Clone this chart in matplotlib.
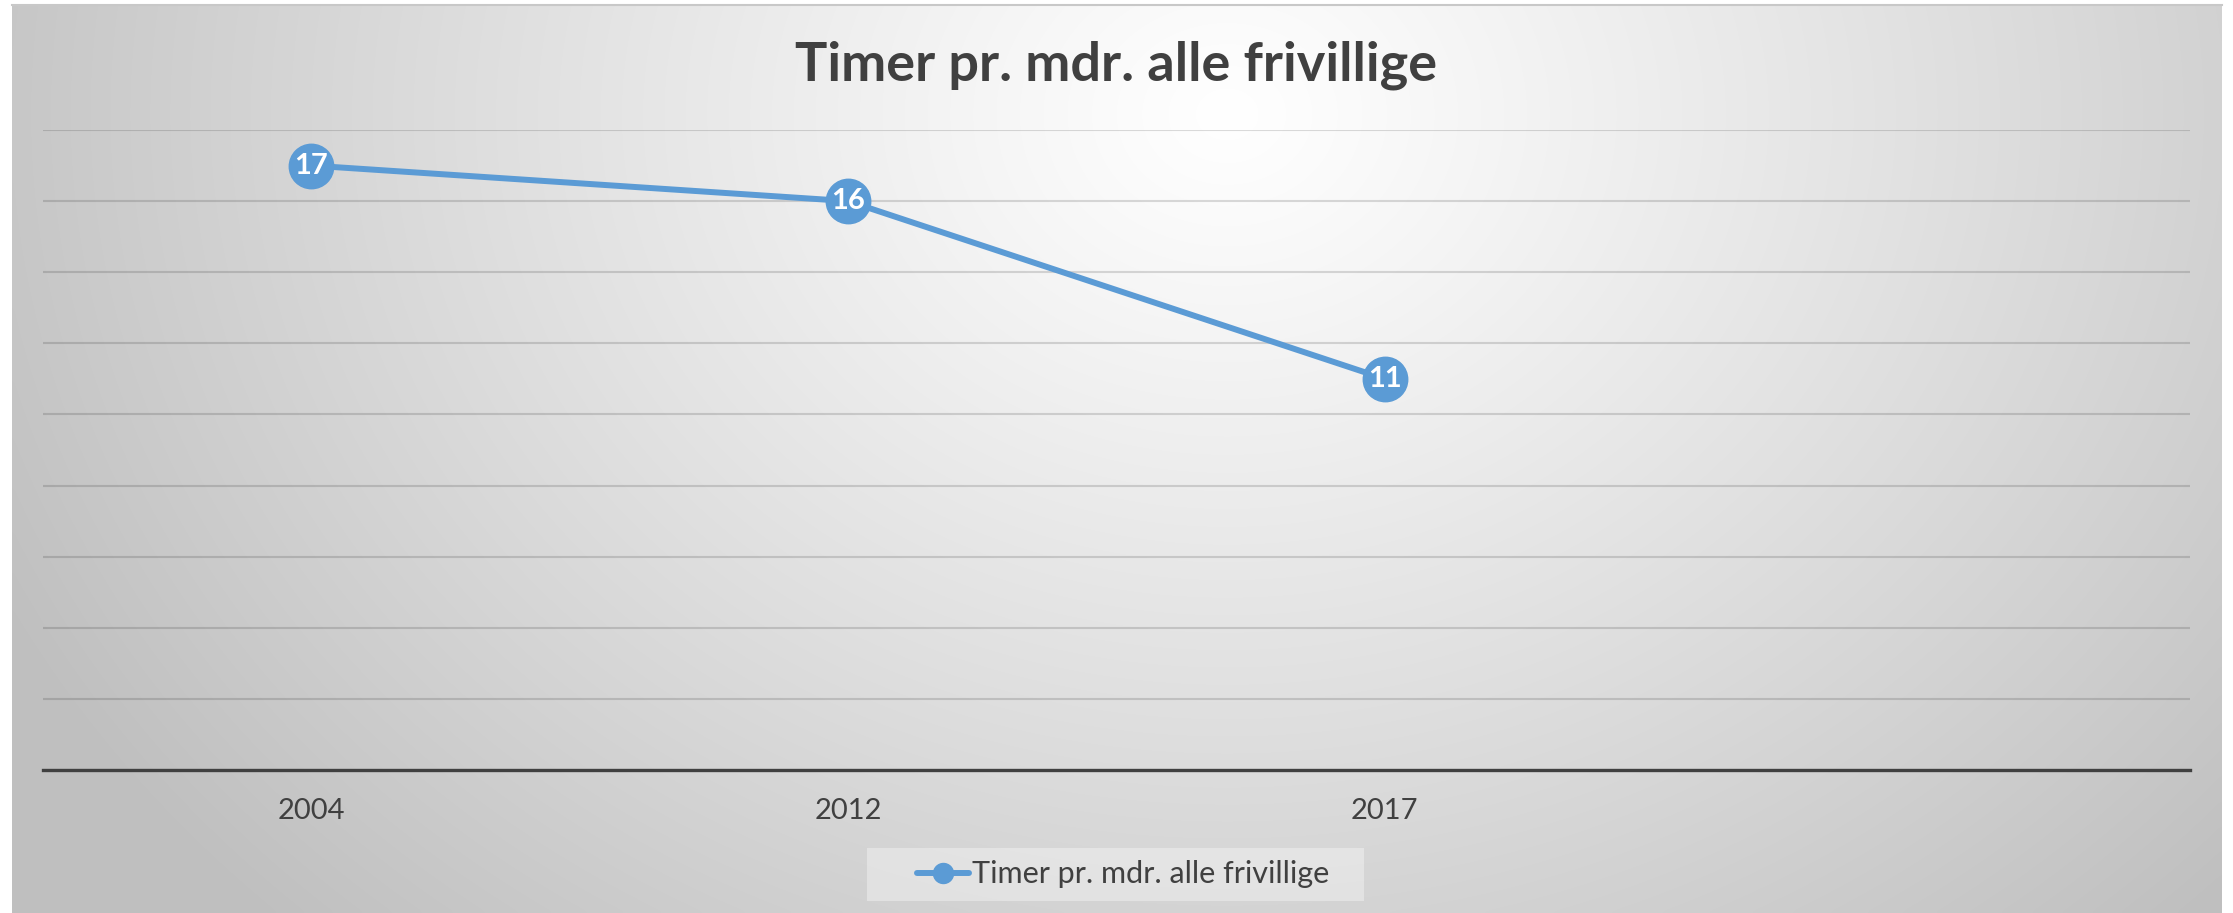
import numpy as np
import matplotlib.pyplot as plt
from matplotlib.patches import Rectangle

plt.rcParams['font.family'] = ['Lato', 'DejaVu Sans']

# Data
categories = ['2004', '2012', '2017', '']
values = [17, 16, 11]
series_name = 'Timer pr. mdr. alle frivillige'
title = 'Timer pr. mdr. alle frivillige'

W, H = 2233, 913
fig = plt.figure(figsize=(W / 100, H / 100), dpi=100)
fig.patch.set_facecolor('white')

# Radial gradient background of the chart area
bg = fig.add_axes([12 / W, 0, 2210 / W, 908 / H], zorder=0)
nx, ny = 600, 250
u, v = np.meshgrid(np.linspace(0, 1, nx), np.linspace(1, 0, ny))
d = np.sqrt(((u - 0.55) / 0.62) ** 2 + ((v - 0.88) / 1.25) ** 2)
d = np.clip(d, 0, 1)
shade = 1.0 - 0.25 * d ** 1.1
img = np.dstack([shade, shade, shade])
bg.imshow(img, aspect='auto', extent=[0, 1, 0, 1], interpolation='bicubic')
bg.set_axis_off()
fig.add_artist(plt.Line2D([12 / W, 2222 / W], [1 - 5 / H, 1 - 5 / H],
                          color='#c8c8c8', lw=1.5))

# Legend background box
fig.add_artist(Rectangle((867 / W, 1 - 901 / H), (1364 - 867) / W, 53 / H,
                         transform=fig.transFigure, facecolor='white',
                         alpha=0.35, edgecolor='none', zorder=0.5))

# Plot area
ax = fig.add_axes([43 / W, 1 - 770 / H, (2190 - 43) / W, (770 - 130) / H], zorder=1)
ax.patch.set_alpha(0)

x = np.arange(len(values))
ax.plot(x, values, color='#5b9bd5', lw=4.3, marker='o', markersize=32,
        markerfacecolor='#5b9bd5', markeredgecolor='#5b9bd5',
        solid_capstyle='round', label=series_name, zorder=3)
for xi, val in zip(x, values):
    ax.text(xi, val, str(val), ha='center', va='center', color='white',
            fontsize=21, fontweight='bold', zorder=4)

ax.set_xlim(-0.5, len(categories) - 0.5)
ax.set_ylim(0, 18)
ax.set_yticks(np.arange(0, 19, 2))
ax.grid(axis='y', color='black', alpha=0.14, lw=1.5)
ax.set_axisbelow(True)
ax.tick_params(axis='y', left=False, labelleft=False)
ax.set_xticks(range(len(categories)))
ax.set_xticklabels(categories, fontsize=21, color='#404040')
ax.tick_params(axis='x', length=0, pad=20)
for s in ['top', 'right', 'left']:
    ax.spines[s].set_visible(False)
ax.spines['bottom'].set_color('#404040')
ax.spines['bottom'].set_linewidth(2.4)

fig.text(0.5, 1 - 65 / H, title, ha='center', va='center', fontsize=39,
         fontweight='bold', color='#404040')

leg = ax.legend(loc='center', bbox_to_anchor=(0.503, -0.163), fontsize=22,
                frameon=False, markerscale=0.45, handlelength=1.7,
                handletextpad=0.1, borderpad=0.45, borderaxespad=0)
for t in leg.get_texts():
    t.set_color('#404040')

fig.savefig('out.png', dpi=100)
